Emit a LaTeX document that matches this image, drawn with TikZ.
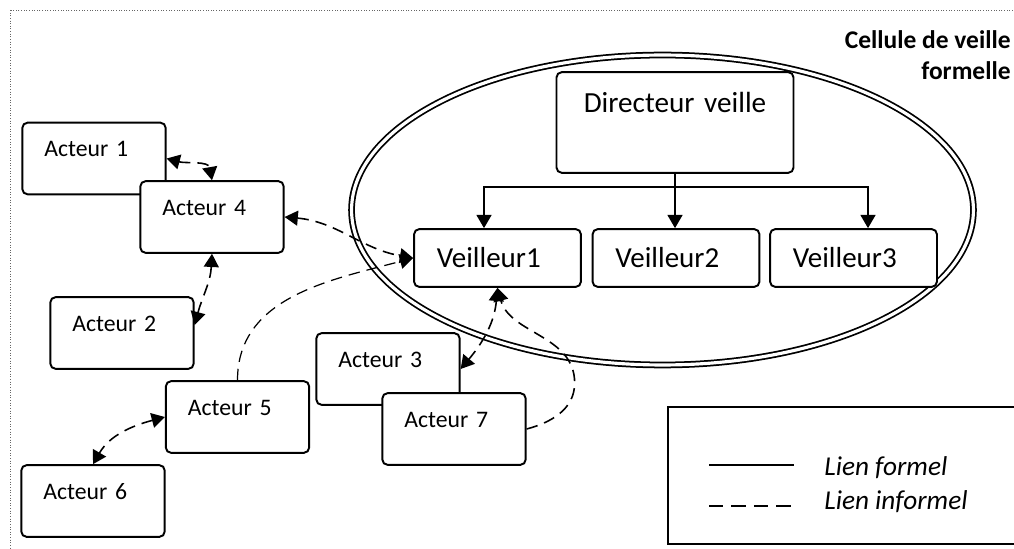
\documentclass[tikz,border=0pt]{standalone}
\usepackage{fontspec}
\setmainfont{Carlito}
\usetikzlibrary{positioning,calc,arrows.meta,shapes.geometric}

\begin{document}
\begin{tikzpicture}[x=0.02cm, y=0.02cm, >={Triangle[length=7.5pt, width=8.5pt]}, every node/.style={font=\fontsize{13.5}{16}\selectfont}]
    \tikzset{acteur/.style={rectangle, draw, fill=white, line width=1.1pt, rounded corners=3pt, text width=56.6pt, inner xsep=12.5pt, inner ysep=0pt, text height=19.5pt, text depth=21.3pt, align=left}}
    \tikzset{veilleur/.style={rectangle, draw, fill=white, line width=1.1pt, rounded corners=3pt, text width=69pt, inner xsep=13pt, inner ysep=0pt, minimum height=32.9pt, align=left, font=\fontsize{16.5}{19}\selectfont}}
    \tikzset{directeur/.style={rectangle, draw, fill=white, line width=1.1pt, rounded corners=3pt, text width=134.9pt, inner xsep=0pt, inner ysep=0pt, text height=22.7pt, text depth=34.6pt, align=center, font=\fontsize{16.6}{19}\selectfont}}
    \tikzset{formel/.style={draw, line width=0.9pt, ->}}
    \tikzset{informel/.style={draw, line width=0.9pt, dash pattern=on 6.5pt off 4pt}}

    \clip (0,0) rectangle (1014,548);
    \draw [densely dotted, gray!80!black, line width=0.5pt] (10,538) rectangle (1030,-20);

    \node [ellipse, draw, double, line width=1pt, double distance=1.8pt, minimum width=12.44cm, minimum height=6.2cm, inner sep=0pt] (cell) at (662.5,338) {};
    \node [anchor=north east, align=right, inner sep=0pt, font=\fontsize{14.5}{18}\selectfont\bfseries] (titre) at (1011,518) {Cellule de veille\\formelle};

    \node [directeur] (dir) at (675,425.5) {Directeur veille};
    \node [veilleur] (v1) at (497.5,290) {Veilleur1};
    \node [veilleur] (v2) at (676,290) {Veilleur2};
    \node [veilleur] (v3) at (853.5,290) {Veilleur3};

    \node [acteur] (a1) at (94,389.5) {Acteur 1};
    \node [acteur] (a4) at (212,331) {Acteur 4};
    \node [acteur] (a2) at (122,215) {Acteur 2};
    \node [acteur] (a5) at (237.5,131) {Acteur 5};
    \node [acteur] (a6) at (93,47) {Acteur 6};
    \node [acteur] (a3) at (388,179) {Acteur 3};
    \node [acteur] (a7) at (454,119) {Acteur 7};

    \draw [line width=0.9pt] (dir.south) -- ++(0,-13) coordinate (split);
    \path [formel] (split) -| ($(v1.north)+(-13.5,0)$);
    \path [formel] (split) -- (split |- v2.north);
    \path [formel] (split) -| ($(v3.north)+(14.5,0)$);

    \path [informel, <->] (a1.east) to [out=-15, in=100] (a4.north);
    \path [informel, <->] (a4.east) to [out=-5, in=170] (v1.west);
    \path [informel, line width=0.7pt, ->] (a5.north) to [out=90, in=195] (v1.west);
    \path [informel, <->] (a4.south) to [out=-93, in=75] ($(a2.east)+(0,8)$);
    \path [informel, <->] (a5.west) to [out=195, in=60] (a6.north);
    \path [informel, <->] (v1.south) to [out=-95, in=50] (a3.east);
    \path [informel, ->] (a7.east) to [out=15, in=-90] ++(48,46) to [out=90, in=-75] (v1.south);

    \draw [line width=1.1pt] (668,4) rectangle (1030,141);
    \node [anchor=west, inner sep=0pt, font=\fontsize{15.5}{18}\selectfont\itshape] (lf) at (824,80) {Lien formel};
    \node [anchor=west, inner sep=0pt, font=\fontsize{15.5}{18}\selectfont\itshape] (li) at (824,46) {Lien informel};
    \draw [line width=0.9pt] (lf.west) ++(-115,3) -- ++(85,0);
    \draw [line width=0.9pt, dash pattern=on 8pt off 4.8pt] (li.west) ++(-115,-4) -- ++(82,0);
\end{tikzpicture}
\end{document}
